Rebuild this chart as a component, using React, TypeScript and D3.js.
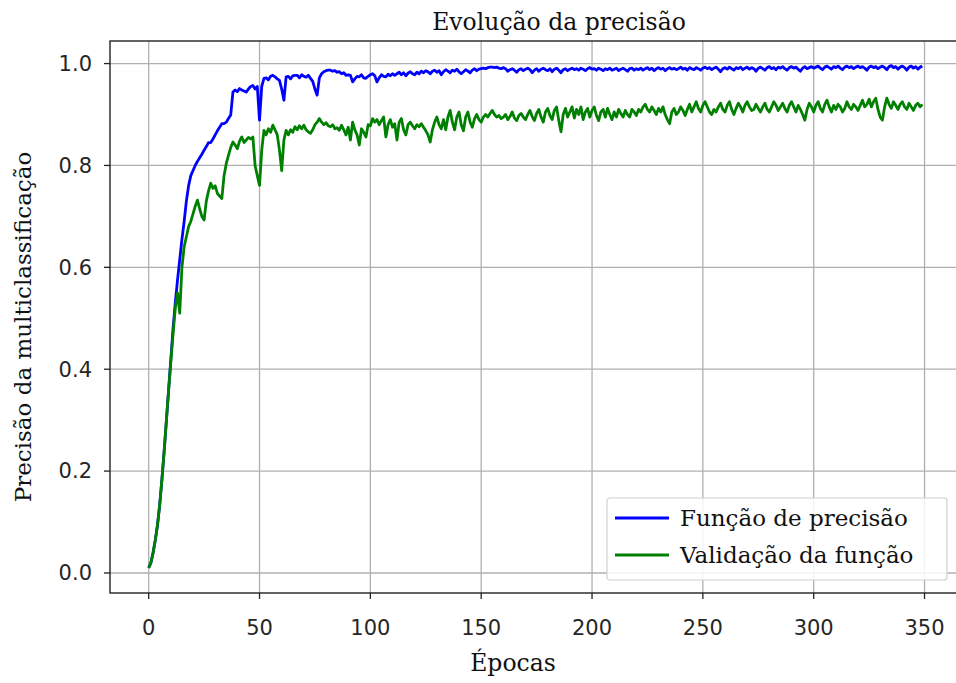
import React from 'react';
import * as d3 from 'd3';

// precisão de treino por época (0..349)
const trainAcc = [
  0.010, 0.020, 0.040, 0.065, 0.095, 0.135, 0.185, 0.240, 0.300, 0.360,
  0.420, 0.480, 0.530, 0.575, 0.615, 0.655, 0.690, 0.730, 0.760, 0.780,
  0.790, 0.800, 0.808, 0.815, 0.822, 0.830, 0.837, 0.845, 0.845, 0.852,
  0.860, 0.868, 0.875, 0.882, 0.882, 0.885, 0.892, 0.899, 0.944, 0.948,
  0.945, 0.951, 0.948, 0.946, 0.944, 0.950, 0.955, 0.957, 0.950, 0.955,
  0.889, 0.955, 0.971, 0.972, 0.968, 0.975, 0.977, 0.974, 0.970, 0.967,
  0.950, 0.928, 0.974, 0.975, 0.970, 0.976, 0.977, 0.977, 0.972, 0.978,
  0.975, 0.973, 0.977, 0.971, 0.965, 0.950, 0.938, 0.972, 0.980, 0.984,
  0.986, 0.987, 0.987, 0.985, 0.986, 0.983, 0.984, 0.980, 0.982, 0.977,
  0.978, 0.977, 0.964, 0.970, 0.975, 0.974, 0.978, 0.972, 0.971, 0.975,
  0.978, 0.980, 0.976, 0.964, 0.972, 0.978, 0.975, 0.974, 0.979, 0.976,
  0.980, 0.977, 0.980, 0.983, 0.978, 0.982, 0.976, 0.981, 0.984, 0.980,
  0.978, 0.983, 0.980, 0.985, 0.982, 0.986, 0.984, 0.980, 0.985, 0.987,
  0.983, 0.986, 0.978, 0.984, 0.988, 0.985, 0.982, 0.987, 0.985, 0.989,
  0.984, 0.980, 0.984, 0.988, 0.985, 0.982, 0.987, 0.990, 0.986, 0.989,
  0.990, 0.991, 0.990, 0.992, 0.993, 0.993, 0.992, 0.993, 0.991, 0.990,
  0.992, 0.990, 0.985, 0.988, 0.990, 0.987, 0.983, 0.988, 0.990, 0.986,
  0.989, 0.991, 0.988, 0.982, 0.987, 0.990, 0.985, 0.989, 0.991, 0.988,
  0.986, 0.990, 0.984, 0.989, 0.991, 0.987, 0.982, 0.988, 0.990, 0.986,
  0.989, 0.991, 0.988, 0.990, 0.987, 0.991, 0.989, 0.986, 0.990, 0.992,
  0.989, 0.990, 0.987, 0.991, 0.989, 0.986, 0.990, 0.988, 0.991, 0.987,
  0.989, 0.991, 0.986, 0.989, 0.991, 0.988, 0.985, 0.990, 0.991, 0.987,
  0.990, 0.988, 0.991, 0.987, 0.990, 0.992, 0.988, 0.991, 0.986, 0.990,
  0.992, 0.989, 0.991, 0.986, 0.990, 0.992, 0.989, 0.991, 0.988, 0.990,
  0.993, 0.989, 0.991, 0.987, 0.992, 0.990, 0.988, 0.992, 0.990, 0.987,
  0.991, 0.993, 0.990, 0.992, 0.988, 0.991, 0.993, 0.989, 0.984, 0.990,
  0.992, 0.989, 0.993, 0.990, 0.987, 0.992, 0.990, 0.993, 0.988, 0.991,
  0.993, 0.989, 0.992, 0.990, 0.985, 0.991, 0.993, 0.990, 0.987, 0.992,
  0.994, 0.990, 0.992, 0.988, 0.993, 0.991, 0.994, 0.990, 0.987, 0.992,
  0.994, 0.991, 0.993, 0.989, 0.985, 0.991, 0.994, 0.990, 0.992, 0.994,
  0.991, 0.993, 0.995, 0.991, 0.988, 0.993, 0.995, 0.992, 0.989, 0.994,
  0.992, 0.995, 0.991, 0.988, 0.993, 0.995, 0.992, 0.994, 0.990, 0.993,
  0.995, 0.992, 0.994, 0.991, 0.987, 0.993, 0.995, 0.992, 0.994, 0.990,
  0.993, 0.995, 0.992, 0.988, 0.994, 0.996, 0.992, 0.994, 0.989, 0.993,
  0.995, 0.992, 0.987, 0.993, 0.995, 0.991, 0.994, 0.989, 0.993, 0.995,
];

// precisão de validação por época (0..349)
const valAcc = [
  0.010, 0.020, 0.040, 0.065, 0.095, 0.135, 0.185, 0.240, 0.300, 0.360,
  0.415, 0.470, 0.520, 0.550, 0.510, 0.600, 0.640, 0.660, 0.680, 0.690,
  0.705, 0.720, 0.732, 0.715, 0.700, 0.693, 0.730, 0.750, 0.765, 0.755,
  0.760, 0.745, 0.740, 0.735, 0.780, 0.804, 0.820, 0.835, 0.846, 0.840,
  0.833, 0.848, 0.856, 0.845, 0.850, 0.855, 0.852, 0.856, 0.800, 0.780,
  0.761, 0.830, 0.869, 0.860, 0.872, 0.865, 0.879, 0.870, 0.860, 0.830,
  0.790, 0.850, 0.869, 0.860, 0.870, 0.865, 0.876, 0.870, 0.878, 0.872,
  0.879, 0.870, 0.866, 0.863, 0.870, 0.880, 0.885, 0.892, 0.885, 0.880,
  0.884, 0.878, 0.876, 0.880, 0.872, 0.874, 0.869, 0.879, 0.870, 0.860,
  0.875, 0.850, 0.885, 0.870, 0.860, 0.840, 0.872, 0.865, 0.856, 0.880,
  0.878, 0.892, 0.885, 0.890, 0.880, 0.888, 0.895, 0.856, 0.880, 0.890,
  0.875, 0.882, 0.850, 0.885, 0.892, 0.870, 0.860, 0.880, 0.885, 0.878,
  0.872, 0.880, 0.876, 0.882, 0.875, 0.868, 0.860, 0.846, 0.870, 0.885,
  0.895, 0.880, 0.872, 0.890, 0.870, 0.895, 0.908, 0.885, 0.870, 0.895,
  0.905, 0.880, 0.868, 0.895, 0.905, 0.885, 0.875, 0.892, 0.900, 0.890,
  0.885, 0.895, 0.900, 0.895, 0.902, 0.908, 0.900, 0.895, 0.898, 0.892,
  0.895, 0.900, 0.890, 0.896, 0.905, 0.893, 0.888, 0.898, 0.902, 0.895,
  0.890, 0.900, 0.908, 0.896, 0.888, 0.902, 0.910, 0.895, 0.885, 0.905,
  0.912, 0.898, 0.890, 0.908, 0.915, 0.888, 0.866, 0.900, 0.912, 0.895,
  0.905, 0.915, 0.893, 0.910, 0.900, 0.915, 0.890, 0.905, 0.912, 0.895,
  0.908, 0.915, 0.898, 0.888, 0.905, 0.910, 0.895, 0.912, 0.900, 0.890,
  0.905, 0.895, 0.910, 0.902, 0.895, 0.908, 0.900, 0.895, 0.910, 0.905,
  0.898, 0.910, 0.905, 0.915, 0.920, 0.910, 0.905, 0.915, 0.908, 0.900,
  0.912, 0.905, 0.915, 0.900, 0.890, 0.882, 0.905, 0.912, 0.900, 0.905,
  0.915, 0.908, 0.898, 0.910, 0.920, 0.905, 0.915, 0.925, 0.912, 0.905,
  0.918, 0.925, 0.915, 0.905, 0.900, 0.910, 0.905, 0.915, 0.922, 0.910,
  0.905, 0.918, 0.925, 0.910, 0.900, 0.912, 0.922, 0.915, 0.905, 0.918,
  0.925, 0.915, 0.908, 0.910, 0.920, 0.912, 0.905, 0.915, 0.922, 0.910,
  0.905, 0.915, 0.925, 0.918, 0.908, 0.915, 0.922, 0.912, 0.905, 0.918,
  0.925, 0.915, 0.905, 0.918, 0.910, 0.900, 0.889, 0.910, 0.922, 0.915,
  0.905, 0.918, 0.925, 0.912, 0.905, 0.920, 0.928, 0.915, 0.905, 0.918,
  0.910, 0.920, 0.915, 0.905, 0.912, 0.925, 0.915, 0.910, 0.920, 0.915,
  0.908, 0.918, 0.928, 0.915, 0.920, 0.930, 0.915, 0.925, 0.932, 0.910,
  0.895, 0.889, 0.915, 0.932, 0.920, 0.912, 0.925, 0.918, 0.910, 0.920,
  0.925, 0.915, 0.910, 0.922, 0.915, 0.908, 0.918, 0.922, 0.915, 0.920,
];

const xTicks = [0, 50, 100, 150, 200, 250, 300, 350];
const yTicks = [0.0, 0.2, 0.4, 0.6, 0.8, 1.0];
const seriesNames = ['Função de precisão', 'Validação da função'];
const seriesColors = ['#0000ff', '#008000'];

const W = 956;
const H = 683;
const plot = { left: 110, right: 961, top: 41, bottom: 593 };

const serif = '"DejaVu Serif", "Liberation Serif", serif';
const sans = '"DejaVu Sans", Verdana, sans-serif';

export default function App() {
  const x = d3.scaleLinear().domain([-17.45, 366.45]).range([plot.left, plot.right]);
  const y = d3.scaleLinear().domain([-0.0393, 1.0443]).range([plot.bottom, plot.top]);

  const line = d3
    .line<number>()
    .x((_, i) => x(i))
    .y((d) => y(d));

  const series = [trainAcc, valAcc];

  return (
    <svg
      width={W}
      height={H}
      style={{ position: 'absolute', left: 0, top: 0, background: '#fff' }}
    >
      <defs>
        <clipPath id="plotClip">
          <rect x={plot.left} y={plot.top} width={plot.right - plot.left} height={plot.bottom - plot.top} />
        </clipPath>
      </defs>

      {/* grade */}
      <g stroke="#b0b0b0" strokeWidth={1.3}>
        {xTicks.map((t) => (
          <line key={'gx' + t} x1={x(t)} x2={x(t)} y1={plot.top} y2={plot.bottom} />
        ))}
        {yTicks.map((t) => (
          <line key={'gy' + t} x1={plot.left} x2={plot.right} y1={y(t)} y2={y(t)} />
        ))}
      </g>

      {/* curvas */}
      <g clipPath="url(#plotClip)" fill="none" strokeWidth={2.8} strokeLinejoin="round">
        {series.map((s, i) => (
          <path key={i} d={line(s) || ''} stroke={seriesColors[i]} />
        ))}
      </g>

      {/* moldura */}
      <rect
        x={plot.left}
        y={plot.top}
        width={plot.right - plot.left}
        height={plot.bottom - plot.top}
        fill="none"
        stroke="#222"
        strokeWidth={1.4}
      />

      {/* eixo x */}
      <g>
        {xTicks.map((t) => (
          <g key={'tx' + t} transform={`translate(${x(t)},${plot.bottom})`}>
            <line y2={6} stroke="#222" strokeWidth={1.3} />
            <text y={42} textAnchor="middle" fontFamily={sans} fontSize={21} fill="#262626">
              {t}
            </text>
          </g>
        ))}
      </g>

      {/* eixo y */}
      <g>
        {yTicks.map((t) => (
          <g key={'ty' + t} transform={`translate(${plot.left},${y(t)})`}>
            <line x2={-6} stroke="#222" strokeWidth={1.3} />
            <text x={-18} dy="0.35em" textAnchor="end" fontFamily={sans} fontSize={21} fill="#262626">
              {t.toFixed(1)}
            </text>
          </g>
        ))}
      </g>

      {/* títulos */}
      <text x={559} y={30} textAnchor="middle" fontFamily={serif} fontSize={23.5} fill="#111">
        Evolução da precisão
      </text>
      <text x={513} y={671} textAnchor="middle" fontFamily={serif} fontSize={23.5} fill="#111">
        Épocas
      </text>
      <text
        transform={`translate(31,327) rotate(-90)`}
        textAnchor="middle"
        fontFamily={serif}
        fontSize={23}
        fill="#111"
      >
        Precisão da multiclassificação
      </text>

      {/* legenda */}
      <g transform="translate(607,498)">
        <rect width={340} height={82} rx={3} fill="#fff" fillOpacity={0.85} stroke="#d0d0d0" strokeWidth={1.2} />
        {seriesNames.map((name, i) => (
          <g key={name} transform={`translate(0,${20 + i * 37})`}>
            <line x1={8} x2={62} stroke={seriesColors[i]} strokeWidth={2.8} />
            <text x={73} dy="0.35em" fontFamily={serif} fontSize={23} fill="#111">
              {name}
            </text>
          </g>
        ))}
      </g>
    </svg>
  );
}
